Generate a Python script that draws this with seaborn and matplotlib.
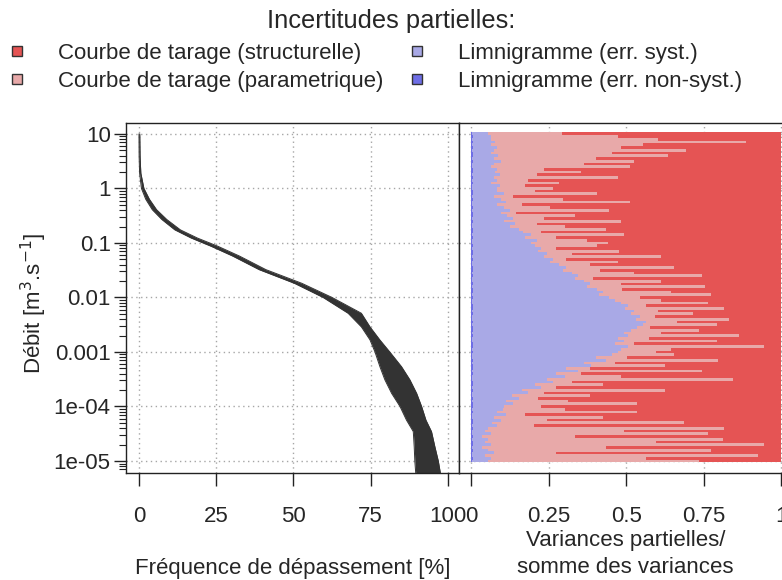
import numpy as np
import pandas as pd
import seaborn as sns
import matplotlib.pyplot as plt
from matplotlib.lines import Line2D

sns.set_theme(style="ticks")
plt.rcParams['font.family'] = ['Liberation Sans', 'DejaVu Sans']

# courbe des debits classes : log10(Q) et bande de frequence de depassement [%]
fdc_logq = [1.0, 0.59, 0.28, 0.0, -0.2, -0.39, -0.57, -0.76, -0.91, -1.06, -1.24, -1.49, -1.74,
            -2.0, -2.29, -2.54, -2.78, -3.0, -3.27, -3.51, -3.76, -4.0, -4.25, -4.46, -4.74,
            -5.0, -5.23]
freq_low = [0.0, 0.05, 0.2, 0.8, 2.2, 4.3, 7.4, 11.6, 16.9, 23.3, 30.3, 38.9, 50.3,
            59.6, 67.7, 72.0, 74.8, 76.4, 78.0, 79.6, 81.8, 84.5, 86.6, 88.8, 89.1,
            89.3, 89.6]
freq_high = [0.25, 0.35, 0.6, 1.6, 3.4, 5.7, 9.0, 13.4, 18.9, 25.5, 32.5, 41.1, 52.7,
             62.5, 72.0, 74.8, 78.0, 81.2, 85.0, 87.7, 89.9, 91.5, 92.9, 94.7, 95.8,
             96.9, 97.6]

# variances partielles / somme des variances, pour log10(Q) = 1 ... -5 (pas de 0.05)
levels = np.round(np.arange(1.0, -5.001, -0.05), 2)
var_nonsyst = [0.004, 0.005, 0.004, 0.006, 0.003, 0.005, 0.004, 0.005, 0.006, 0.004,
               0.005, 0.004, 0.003, 0.005, 0.006, 0.004, 0.005, 0.004, 0.005, 0.003,
               0.004, 0.005, 0.006, 0.004, 0.005, 0.003, 0.004, 0.005, 0.004, 0.006,
               0.005, 0.004, 0.005, 0.003, 0.004, 0.005, 0.006, 0.004, 0.005, 0.004,
               0.003, 0.005, 0.004, 0.006, 0.005, 0.004, 0.005, 0.003, 0.004, 0.005,
               0.006, 0.004, 0.005, 0.004, 0.003, 0.005, 0.004, 0.006, 0.005, 0.004,
               0.005, 0.003, 0.004, 0.005, 0.006, 0.004, 0.005, 0.004, 0.003, 0.005,
               0.004, 0.006, 0.005, 0.004, 0.005, 0.003, 0.004, 0.005, 0.006, 0.004,
               0.005, 0.004, 0.003, 0.005, 0.004, 0.006, 0.005, 0.004, 0.005, 0.003,
               0.004, 0.005, 0.006, 0.004, 0.005, 0.004, 0.003, 0.005, 0.004, 0.006,
               0.005, 0.004, 0.005, 0.003, 0.004, 0.005, 0.006, 0.004, 0.005, 0.004,
               0.003, 0.005, 0.004, 0.006, 0.005, 0.004, 0.005, 0.003, 0.004, 0.005,
               0.004]
var_syst = [0.05, 0.06, 0.06, 0.07, 0.06, 0.08, 0.07, 0.06, 0.08, 0.07, 0.09, 0.07, 0.06, 0.08,
            0.07, 0.09, 0.07, 0.08, 0.06, 0.09, 0.08,
            0.08, 0.10, 0.07, 0.09, 0.11, 0.08, 0.10, 0.12, 0.09, 0.11, 0.13, 0.10, 0.14, 0.12,
            0.15, 0.16, 0.19, 0.17, 0.21, 0.19,
            0.20, 0.22, 0.21, 0.24, 0.23, 0.26, 0.25, 0.28, 0.30, 0.29, 0.32, 0.34, 0.33, 0.36,
            0.38, 0.37, 0.40, 0.42, 0.41, 0.44,
            0.46, 0.48, 0.50, 0.49, 0.52, 0.51, 0.54, 0.53, 0.56, 0.55, 0.53, 0.51, 0.49, 0.50,
            0.47, 0.49, 0.46, 0.50, 0.48, 0.47,
            0.45, 0.40, 0.43, 0.36, 0.38, 0.30, 0.34, 0.27, 0.30, 0.24, 0.26, 0.20, 0.22, 0.16,
            0.18, 0.13, 0.15, 0.11, 0.13, 0.10,
            0.10, 0.08, 0.11, 0.07, 0.09, 0.06, 0.08, 0.05, 0.04, 0.06, 0.03, 0.05, 0.04, 0.06,
            0.03, 0.05, 0.07, 0.04, 0.06, 0.05]
var_param = [0.24, 0.41, 0.54, 0.81, 0.49, 0.40, 0.62, 0.39, 0.55, 0.33, 0.43, 0.29, 0.45, 0.15,
             0.28, 0.12, 0.40, 0.10, 0.22, 0.08, 0.18,
             0.12, 0.30, 0.06, 0.20, 0.40, 0.08, 0.15, 0.32, 0.05, 0.22, 0.10, 0.38, 0.07, 0.18,
             0.28, 0.06, 0.30, 0.10, 0.16, 0.25,
             0.20, 0.05, 0.26, 0.08, 0.38, 0.04, 0.22, 0.10, 0.35, 0.12, 0.20, 0.40, 0.06, 0.25,
             0.10, 0.38, 0.08, 0.22, 0.36, 0.10,
             0.15, 0.28, 0.06, 0.32, 0.08, 0.20, 0.05, 0.30, 0.10, 0.24, 0.04, 0.22, 0.12, 0.36,
             0.10, 0.30, 0.06, 0.44, 0.16, 0.12,
             0.20, 0.10, 0.36, 0.10, 0.24, 0.08, 0.40, 0.08, 0.18, 0.60, 0.06, 0.22, 0.05, 0.46,
             0.05, 0.25, 0.06, 0.20, 0.40, 0.12,
             0.20, 0.45, 0.06, 0.35, 0.15, 0.62, 0.12, 0.76, 0.45, 0.70, 0.30, 0.76, 0.55, 0.88,
             0.40, 0.72, 0.20, 0.88, 0.50, 0.68]

col_struct = "#E55454"
col_param = "#E8A9A9"
col_syst = "#A9A9E6"
col_nonsyst = "#6E6EE6"

labels = ["Courbe de tarage (structurelle)", "Courbe de tarage (parametrique)",
          "Limnigramme (err. syst.)", "Limnigramme (err. non-syst.)"]
colors = [col_struct, col_param, col_syst, col_nonsyst]

df = pd.DataFrame({"logq": levels, "nonsyst": var_nonsyst, "syst": var_syst, "param": var_param})
df["struct"] = 1 - df.nonsyst - df.syst - df.param
df["c_nonsyst"] = df.nonsyst
df["c_syst"] = df.c_nonsyst + df.syst
df["c_param"] = df.c_syst + df.param
df["c_struct"] = df.c_param + df.struct

fs = 16
fig = plt.figure(figsize=(7.82, 5.80), dpi=100)
ax1 = fig.add_axes([126 / 782, 107 / 580, 333 / 782, 350 / 580])
ax2 = fig.add_axes([459 / 782, 107 / 580, 333 / 782, 350 / 580])

grid_kw = dict(color="#a6a6a6", linestyle=(0, (1, 2.5)), linewidth=1)

# panneau gauche
q = 10 ** np.array(fdc_logq)
ax1.fill_betweenx(q, freq_low, freq_high, color="#333333", linewidth=0, zorder=2)
sns.lineplot(x=freq_low, y=q, orient="y", estimator=None, color="#333333", lw=0.7, ax=ax1, zorder=2)
sns.lineplot(x=freq_high, y=q, orient="y", estimator=None, color="#333333", lw=0.7, ax=ax1, zorder=2)
ax1.set_yscale("log")
ax1.set_ylim(10 ** -5.22, 10 ** 1.2)
ax1.set_xlim(-4.2, 103.6)
ax1.set_xticks([0, 25, 50, 75, 100])
ax1.set_xticklabels(["0", "25", "50", "75", "100"])
ax1.set_yticks([10, 1, 0.1, 0.01, 0.001, 1e-4, 1e-5])
ax1.set_yticklabels(["10", "1", "0.1", "0.01", "0.001", "1e-04", "1e-05"])
ax1.set_axisbelow(True)
ax1.grid(True, which="major", **grid_kw)
ax1.grid(False, which="minor")
ax1.tick_params(axis="both", which="major", length=9, width=1, pad=2, labelsize=fs, color="#222222")
ax1.tick_params(axis="x", which="major", pad=15)
ax1.tick_params(axis="y", which="minor", length=5, width=0.8, color="#222222")
ax1.tick_params(axis="x", which="minor", bottom=False)
ax1.set_xlabel("Fréquence de dépassement [%]", fontsize=fs)
ax1.xaxis.set_label_coords(0.5, -0.243)
ax1.set_ylabel("Débit [m$^3$.s$^{-1}$]", fontsize=fs)
ax1.yaxis.set_label_coords(-0.231, 0.485)

# panneau droit : variances empilees
for col, c in zip(["c_struct", "c_param", "c_syst", "c_nonsyst"], colors):
    sns.barplot(data=df, x=col, y="logq", orient="h", native_scale=True, width=1.03,
                color=c, saturation=1, linewidth=0, errorbar=None, ax=ax2, zorder=2)
ax2.set_ylim(-5.22, 1.2)
ax2.set_xlim(-0.039, 1.035)
ax2.set_xticks([0, 0.25, 0.5, 0.75, 1])
ax2.set_xticklabels(["0", "0.25", "0.5", "0.75", "1"])
ax2.set_yticks([1, 0, -1, -2, -3, -4, -5])
ax2.set_yticklabels([])
ax2.set_axisbelow(True)
ax2.grid(True, **grid_kw)
ax2.tick_params(axis="y", left=False)
ax2.tick_params(axis="x", length=9, width=1, pad=15, labelsize=fs, color="#222222")
ax2.set_ylabel("")
ax2.set_xlabel("Variances partielles/\nsomme des variances", fontsize=fs, linespacing=1.35)
ax2.xaxis.set_label_coords(0.5, -0.163)

for ax in (ax1, ax2):
    for s in ax.spines.values():
        s.set_visible(True)
        s.set_linewidth(1.0)
        s.set_color("#222222")

# legende
fig.suptitle("Incertitudes partielles:", x=391 / 782, y=1 - 9 / 580, va="top", fontsize=18.4)
handles = [Line2D([], [], marker="s", ls="", markersize=7.5, markerfacecolor=c,
                  markeredgecolor="#333333", markeredgewidth=1) for c in colors]
fig.legend(handles, labels, ncol=2, loc="upper left", bbox_to_anchor=(6 / 782, 1 - 43 / 580),
           frameon=False, fontsize=fs, handlelength=1, handletextpad=1.35, columnspacing=1.0,
           labelspacing=0.3, borderpad=0, borderaxespad=0)

fig.savefig("out.png", dpi=100)
